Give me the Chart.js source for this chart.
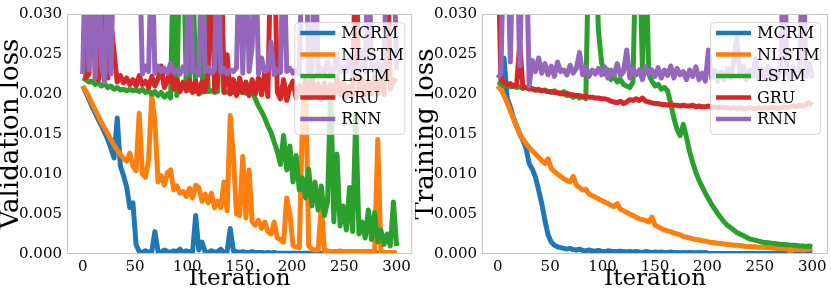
<!DOCTYPE html>
<html>
<head>
<meta charset="utf-8">
<script src="https://cdn.jsdelivr.net/npm/chart.js@4"></script>
<style>
  html, body { margin: 0; padding: 0; background: #fff; }
  #wrap { position: relative; width: 831px; height: 295px; }
  canvas { position: absolute; top: 0; }
</style>
</head>
<body>
<div id="wrap">
  <canvas id="valChart" width="415" height="295" style="left:0"></canvas>
  <canvas id="trainChart" width="416" height="295" style="left:415px"></canvas>
</div>
<script>
// iterations (x values), every 3rd iteration
const iterations = [
  0, 3, 6, 9, 12, 15, 18, 21, 24, 27,
  30, 33, 36, 39, 42, 45, 48, 51, 54, 57,
  60, 63, 66, 69, 72, 75, 78, 81, 84, 87,
  90, 93, 96, 99, 102, 105, 108, 111, 114, 117,
  120, 123, 126, 129, 132, 135, 138, 141, 144, 147,
  150, 153, 156, 159, 162, 165, 168, 171, 174, 177,
  180, 183, 186, 189, 192, 195, 198, 201, 204, 207,
  210, 213, 216, 219, 222, 225, 228, 231, 234, 237,
  240, 243, 246, 249, 252, 255, 258, 261, 264, 267,
  270, 273, 276, 279, 282, 285, 288, 291, 294, 297,
  300
];

const seriesNames = ['MCRM', 'NLSTM', 'LSTM', 'GRU', 'RNN'];
const seriesColors = ['#1f77b4', '#ff7f0e', '#2ca02c', '#d62728', '#9467bd'];
const xTicks = [0, 50, 100, 150, 200, 250, 300];
const yTicks = [0, 0.005, 0.01, 0.015, 0.02, 0.025, 0.03];

// loss values, in units of 1e-3 (values above 30 run off the top of the plot)
const valMCRM = [
  21.0, 20.2, 19.3, 18.4, 17.6, 16.8, 16.0, 15.2, 14.3, 13.2,
  12.0, 17.0, 11.0, 9.8, 8.4, 5.8, 6.4, 1.2, 0.3, 0.2,
  0.4, 0.2, 0.3, 2.8, 0.3, 0.2, 0.5, 0.3, 0.2, 0.4,
  0.3, 0.6, 0.2, 0.4, 0.3, 0.2, 4.8, 0.5, 1.5, 0.3,
  0.2, 0.4, 0.2, 0.3, 0.6, 0.2, 0.3, 3.2, 0.4, 0.3,
  0.2, 0.3, 0.2, 0.2, 0.3, 0.2, 0.2, 0.2, 0.1, 0.2,
  0.1, 0.2, 0.1, 0.1, 0.1, 0.1, 0.1, 0.1, 0.1, 0.1,
  0.1, 0.1, 0.1, 0.1, 0.1, 0.1, 0.1, 0.1, 0.1, 0.1,
  0.1, 0.1, 0.1, 0.1, 0.1, 0.1, 0.1, 0.1, 0.1, 0.1,
  0.1, 0.1, 0.1, 0.1, 0.1, 0.1, 0.1, 0.1, 0.1, 0.1,
  0.1
];
const valNLSTM = [
  21.0, 20.4, 19.6, 18.8, 18.0, 17.2, 16.4, 15.7, 15.0, 14.3,
  13.6, 13.0, 12.4, 12.0, 11.6, 12.6, 11.0, 10.4, 17.6, 10.0,
  9.6, 11.8, 19.8, 16.5, 9.0, 9.8, 8.6, 10.2, 10.5, 8.0,
  8.5, 7.6, 7.8, 7.2, 8.2, 7.0, 8.6, 8.3, 6.6, 7.5,
  6.4, 7.6, 5.8, 6.6, 5.8, 9.0, 5.4, 17.3, 12.3, 5.0,
  4.8, 12.2, 4.5, 10.5, 4.0, 3.6, 4.2, 3.2, 4.0, 2.8,
  2.5, 4.0, 2.0, 1.8, 1.5, 7.0, 5.0, 1.1, 0.9, 0.8,
  16.5, 22.0, 1.0, 0.6, 0.5, 0.5, 6.0, 0.4, 0.4, 0.3,
  0.3, 0.3, 0.4, 0.3, 0.3, 0.3, 0.3, 0.3, 0.3, 0.3,
  0.3, 0.3, 0.3, 0.3, 14.3, 0.3, 0.2, 0.2, 0.2, 0.2,
  0.2
];
const valLSTM = [
  22.0, 21.8, 21.5, 21.6, 21.2, 21.4, 21.0, 21.3, 20.8, 21.0,
  20.6, 20.8, 20.5, 20.6, 20.4, 20.6, 20.4, 20.5, 20.3, 20.6,
  20.2, 20.4, 20.0, 20.3, 19.8, 20.2, 19.6, 20.0, 19.5, 40,
  19.8, 40, 40, 21.0, 20.5, 38, 20.3, 20.4, 20.2, 34,
  20.3, 20.4, 20.2, 20.3, 36, 20.3, 20.2, 20.3, 20.2, 20.4,
  20.2, 20.3, 20.1, 20.3, 20.2, 19.4, 18.5, 17.8, 17.0, 16.0,
  15.2, 14.0, 12.8, 11.2, 14.8, 10.5, 13.5, 9.0, 12.3, 8.0,
  9.5, 7.0, 10.6, 6.0, 9.0, 5.5, 8.5, 4.8, 6.5, 21.0,
  4.0, 12.5, 3.5, 6.0, 3.0, 8.3, 2.8, 17.5, 2.5, 4.0,
  2.0, 5.5, 1.8, 5.2, 1.5, 3.0, 1.2, 2.5, 1.0, 6.5,
  1.0
];
const valGRU = [
  40, 22.0, 22.5, 40, 22.0, 21.8, 28.0, 40, 22.0, 29.0,
  25.2, 21.5, 22.3, 21.4, 22.0, 21.2, 21.8, 21.0, 22.3, 21.2,
  21.6, 20.8, 22.2, 21.0, 21.9, 23.5, 20.8, 21.7, 23.3, 20.6,
  21.8, 20.3, 21.5, 20.4, 21.8, 20.2, 21.6, 20.0, 21.5, 20.3,
  23.0, 40, 20.4, 21.4, 40, 20.2, 24.9, 20.0, 21.8, 19.8,
  22.0, 20.2, 21.5, 19.8, 21.8, 20.0, 22.0, 19.9, 22.8, 19.7,
  40, 40, 20.2, 19.4, 21.8, 19.2, 20.8, 21.6, 19.5, 21.0,
  19.7, 21.8, 19.5, 22.2, 19.8, 21.2, 19.3, 21.4, 19.8, 21.2,
  19.7, 22.2, 19.9, 21.4, 19.5, 21.0, 19.7, 40, 20.2, 21.8,
  19.8, 21.4, 20.0, 22.2, 20.0, 21.6, 19.9, 40, 20.6, 21.8,
  21.5
];
const valRNN = [
  22.5, 40, 23.0, 40, 22.0, 40, 23.5, 21.5, 40, 22.5,
  40, 40, 40, 40, 40, 40, 40, 40, 40, 22.5,
  23.5, 22.8, 40, 22.6, 23.5, 22.8, 23.2, 22.6, 23.8, 22.7,
  23.0, 22.5, 23.4, 22.6, 40, 22.8, 23.0, 22.4, 40, 22.8,
  23.3, 22.6, 23.0, 40, 22.7, 23.2, 22.5, 23.0, 22.8, 23.3,
  40, 22.6, 40, 22.8, 26.0, 40, 22.5, 24.5, 22.8, 23.0,
  26.5, 22.4, 23.0, 22.7, 40, 22.8, 23.2, 22.6, 23.0, 22.5,
  40, 40, 22.8, 23.0, 40, 22.6, 23.2, 22.8, 24.0, 22.6,
  23.0, 25.0, 22.7, 23.4, 22.8, 24.5, 22.6, 23.0, 22.8, 25.5,
  22.7, 40, 23.0, 22.8, 24.0, 22.6, 23.5, 40, 40, 40,
  23.0
];

const trainMCRM = [
  21.0, 20.6, 24.5, 19.5, 18.4, 17.0, 16.0, 15.0, 14.2, 13.2,
  11.3, 10.6, 9.6, 8.0, 6.3, 4.2, 2.4, 1.5, 1.1, 0.9,
  0.8, 0.7, 0.6, 0.7, 0.55, 0.5, 0.6, 0.45, 0.4, 0.5,
  0.4, 0.35, 0.45, 0.35, 0.3, 0.4, 0.35, 0.3, 0.3, 0.35,
  0.3, 0.25, 0.3, 0.25, 0.3, 0.25, 0.2, 0.3, 0.25, 0.2,
  0.25, 0.2, 0.25, 0.2, 0.2, 0.25, 0.2, 0.2, 0.15, 0.2,
  0.15, 0.2, 0.15, 0.15, 0.2, 0.15, 0.2, 0.05, 0.05, 0.05,
  0.05, 0.05, 0.05, 0.05, 0.05, 0.05, 0.05, 0.05, 0.05, 0.05,
  0.05, 0.05, 0.05, 0.05, 0.05, 0.05, 0.05, 0.05, 0.05, 0.05,
  0.05, 0.05, 0.05, 0.05, 0.05, 0.05, 0.05, 0.05, 0.05, 0.05,
  0.05
];
const trainNLSTM = [
  21.0, 20.6, 19.8, 18.9, 17.9, 16.9, 15.9, 15.0, 14.4, 13.8,
  13.3, 12.9, 12.5, 12.1, 11.7, 11.3, 11.9, 10.7, 10.3, 10.0,
  9.7, 9.4, 9.2, 9.0, 9.7, 8.6, 8.3, 8.0, 8.1, 7.5,
  7.3, 7.1, 6.9, 6.7, 6.5, 6.3, 6.1, 5.9, 6.3, 5.6,
  5.4, 5.2, 5.0, 4.8, 4.6, 4.4, 4.3, 4.2, 4.0, 4.6,
  3.6, 3.4, 3.2, 3.0, 2.9, 2.8, 2.6, 2.5, 2.4, 2.2,
  2.1, 2.0, 1.9, 1.8, 1.75, 1.65, 1.6, 1.5, 1.45, 1.4,
  1.35, 1.3, 1.25, 1.2, 1.15, 1.1, 1.1, 1.05, 1.0, 0.95,
  0.95, 0.9, 0.9, 0.85, 0.85, 0.8, 0.8, 0.75, 0.75, 0.7,
  0.7, 0.65, 0.65, 0.3, 0.6, 0.55, 0.6, 0.5, 0.55, 0.6,
  0.7
];
const trainLSTM = [
  21.5, 21.3, 21.0, 21.2, 20.9, 21.0, 20.8, 20.9, 20.7, 20.8,
  20.6, 20.7, 20.5, 20.6, 20.4, 20.5, 20.3, 20.2, 20.4, 20.1,
  20.0, 20.3, 19.8, 19.9, 19.6, 19.8, 19.5, 19.7, 19.4, 40,
  40, 40, 28.0, 24.0, 22.5, 23.0, 21.8, 22.2, 21.5, 21.8,
  21.2, 21.0, 20.8, 21.5, 40, 40, 23.0, 40, 22.5, 21.6,
  21.0, 21.2, 20.6, 20.8, 20.4, 18.8, 17.0, 15.6, 14.8, 16.2,
  14.6, 12.8, 11.4, 10.2, 9.2, 8.4, 7.6, 6.9, 6.2, 5.6,
  5.0, 4.5, 4.0, 3.6, 3.3, 3.0, 2.7, 2.5, 2.3, 2.1,
  1.9, 1.8, 1.7, 1.6, 1.5, 1.45, 1.4, 1.35, 1.3, 1.25,
  1.2, 1.2, 1.15, 1.1, 1.1, 1.05, 1.0, 1.0, 0.95, 1.0,
  0.9
];
const trainGRU = [
  40, 21.8, 21.4, 21.2, 21.3, 21.0, 21.1, 26.3, 20.8, 20.8,
  20.7, 20.6, 20.5, 20.5, 20.4, 20.4, 20.3, 20.3, 20.2, 20.2,
  20.1, 20.0, 20.1, 19.9, 19.9, 19.8, 19.8, 19.7, 19.7, 19.6,
  19.6, 19.5, 19.5, 19.4, 19.4, 19.3, 19.1, 19.0, 18.9, 19.1,
  18.8, 19.0, 19.3, 19.2, 19.4, 19.2, 19.5, 19.1, 19.0, 18.9,
  18.8, 18.8, 18.7, 18.7, 18.6, 18.7, 18.6, 18.6, 18.5, 18.6,
  18.5, 18.5, 18.6, 18.4, 18.5, 18.4, 18.4, 18.5, 18.3, 18.4,
  18.3, 18.4, 18.3, 18.3, 18.2, 18.3, 18.2, 18.3, 18.2, 18.2,
  18.3, 18.2, 18.2, 18.3, 18.2, 18.3, 18.2, 18.3, 18.3, 18.2,
  18.3, 18.4, 18.3, 18.4, 18.5, 18.4, 18.6, 18.5, 18.7, 18.9,
  18.6
];
const trainRNN = [
  22.0, 22.5, 40, 40, 24.0, 40, 40, 23.5, 40, 40,
  21.0, 24.2, 22.8, 24.5, 22.6, 23.8, 22.4, 23.5, 22.2, 24.0,
  22.8, 23.0, 22.4, 23.6, 22.6, 23.2, 25.2, 22.4, 23.4, 22.2,
  23.0, 22.5, 23.2, 22.4, 23.4, 22.0, 23.0, 22.4, 23.8, 22.3,
  22.8, 25.5, 22.0, 23.2, 22.4, 23.0, 21.8, 23.4, 22.5, 23.0,
  22.2, 23.3, 22.0, 23.0, 22.3, 23.5, 22.0, 23.2, 22.4, 22.8,
  21.8, 23.0, 22.2, 23.4, 21.8, 22.6, 21.6, 25.5, 22.0, 23.0,
  21.6, 22.8, 21.8, 23.2, 22.0, 24.0, 27.0, 22.2, 23.5, 21.8,
  23.0, 22.2, 24.5, 21.8, 23.2, 22.0, 23.5, 21.8, 22.8, 22.0,
  23.6, 40, 22.5, 21.8, 23.4, 22.0, 23.0, 40, 22.2, 23.8,
  22.0
];

const serif = "'DejaVu Serif', serif";

// legend box and light grey axes frame, drawn like the matplotlib original
const frameLegend = {
  id: 'frameLegend',
  afterDatasetsDraw(chart) {
    const { ctx, chartArea: a } = chart;
    ctx.save();
    const bx = a.right - 118, by = a.top + 8, bw = 110, bh = 112;
    ctx.beginPath();
    ctx.roundRect(bx + 0.5, by + 0.5, bw, bh, 4);
    ctx.fillStyle = 'rgba(255,255,255,0.8)';
    ctx.fill();
    ctx.strokeStyle = 'rgba(204,204,204,0.8)';
    ctx.lineWidth = 1;
    ctx.stroke();

    ctx.font = '16px ' + serif;
    ctx.textBaseline = 'middle';
    ctx.fillStyle = '#000';
    chart.data.datasets.forEach((ds, i) => {
      const y = by + 11 + i * 21.5;
      ctx.strokeStyle = ds.borderColor;
      ctx.lineWidth = 4.5;
      ctx.beginPath();
      ctx.moveTo(bx + 6, y);
      ctx.lineTo(bx + 41, y);
      ctx.stroke();
      ctx.fillText(ds.label, bx + 47, y + 1);
    });

    ctx.strokeStyle = '#c4c4c4';
    ctx.lineWidth = 1;
    ctx.strokeRect(a.left + 0.5, a.top + 0.5, a.right - a.left - 1, a.bottom - a.top - 1);
    ctx.restore();
  }
};

function buildDatasets(seriesList) {
  return seriesList.map((vals, i) => ({
    label: seriesNames[i],
    data: vals.map((v, k) => ({ x: iterations[k], y: v / 1000 })),
    borderColor: seriesColors[i],
    backgroundColor: seriesColors[i],
    borderWidth: 5,
    borderJoinStyle: 'round',
    pointRadius: 0,
    tension: 0,
    fill: false,
    clip: 0,
    order: seriesNames.length - i // later series on top
  }));
}

function makeChart(id, yTitle, seriesList, rightPad) {
  return new Chart(document.getElementById(id), {
    type: 'line',
    data: { datasets: buildDatasets(seriesList) },
    options: {
      responsive: false,
      animation: false,
      devicePixelRatio: 1,
      layout: { padding: { top: 6, right: rightPad, left: 0, bottom: 0 } },
      plugins: { legend: { display: false }, tooltip: { enabled: false } },
      scales: {
        x: {
          type: 'linear',
          min: -15,
          max: 315,
          grid: { display: false, drawTicks: false },
          border: { display: false },
          afterBuildTicks: s => { s.ticks = xTicks.map(v => ({ value: v })); },
          afterFit: s => { s.height = 41; },
          ticks: { font: { family: serif, size: 15 }, color: '#000', padding: 4, maxRotation: 0 },
          title: {
            display: true, text: 'Iteration', color: '#000',
            font: { family: serif, size: 23 }, padding: { top: 0, bottom: 2 }
          }
        },
        y: {
          min: 0,
          max: 0.03,
          grid: { display: false, drawTicks: false },
          border: { display: false },
          afterBuildTicks: s => { s.ticks = yTicks.map(v => ({ value: v })); },
          afterFit: s => { s.width = 67; },
          ticks: {
            font: { family: serif, size: 15 }, color: '#000', padding: 5,
            callback: v => v.toFixed(3)
          },
          title: {
            display: true, text: yTitle, color: '#000',
            font: { family: serif, size: 26, lineHeight: 0.9 }, padding: { top: 0, bottom: 0 }
          }
        }
      }
    },
    plugins: [frameLegend]
  });
}

makeChart('valChart', 'Validation loss',
  [valMCRM, valNLSTM, valLSTM, valGRU, valRNN], 2);
makeChart('trainChart', 'Training loss',
  [trainMCRM, trainNLSTM, trainLSTM, trainGRU, trainRNN], 3);
</script>
</body>
</html>
